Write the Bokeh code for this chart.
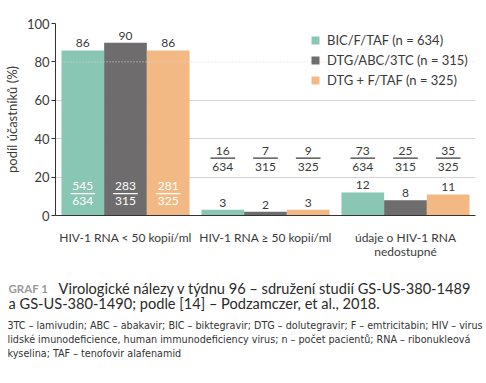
from bokeh.plotting import figure
from bokeh.layouts import column, row
from bokeh.models import (ColumnDataSource, FixedTicker, Legend, LegendItem, Label, Span, Range1d)
from bokeh.core.properties import value
from bokeh.embed import file_html
from bokeh.resources import INLINE

categories = ["HIV-1 RNA < 50 kopií/ml", "HIV-1 RNA ≥ 50 kopií/ml", "údaje o HIV-1 RNA\nnedostupné"]
series = ["BIC/F/TAF (n = 634)", "DTG/ABC/3TC (n = 315)", "DTG + F/TAF (n = 325)"]
colors = ["#8AC6B4", "#6E6C6D", "#F2B985"]
bic = [86, 3, 12]
dtg_abc = [90, 2, 8]
dtg_ftaf = [86, 3, 11]
num_bic = [545, 16, 73]
num_dtg_abc = [283, 7, 25]
num_dtg_ftaf = [281, 9, 35]
den = [634, 315, 325]

FONT = "Lato"
TXT = "#3a3a3a"

WID = 486
H1 = 261
p = figure(width=WID, height=H1, output_backend="svg", toolbar_location=None,
           x_range=Range1d(0, 3), y_range=Range1d(0, 100),
           min_border_left=52, min_border_right=WID - 475, min_border_top=23, min_border_bottom=H1 - 215)
p.outline_line_color = None
p.background_fill_color = None
p.border_fill_color = None

W = 0.305
offsets = [-W, 0.0, W]
vals = [bic, dtg_abc, dtg_ftaf]
nums = [num_bic, num_dtg_abc, num_dtg_ftaf]

renderers = []
for k in range(3):
    xs = [i + 0.5 + offsets[k] for i in range(3)]
    src = ColumnDataSource(dict(x=xs, top=vals[k], lab=[str(v) for v in vals[k]]))
    r = p.vbar(x="x", top="top", width=W, bottom=0, source=src, fill_color=colors[k], line_color=None)
    renderers.append(r)
    p.text(x="x", y="top", text="lab", source=src, text_align="center", text_baseline="bottom",
           y_offset=-3, text_font=value(FONT), text_font_size="12px", text_color=TXT)
    for i in range(3):
        if i == 0:
            yn, yl, yd, col = 15.6, 11.4, 7.3, "white"
        else:
            yn, yl, yd, col = 33.8, 29.9, 25.5, TXT
        xc = xs[i]
        p.text(x=[xc], y=[yn], text=[str(nums[k][i])], text_align="center", text_baseline="middle",
               text_font=value(FONT), text_font_size="12px", text_color=col)
        p.text(x=[xc], y=[yd], text=[str(den[k])], text_align="center", text_baseline="middle",
               text_font=value(FONT), text_font_size="12px", text_color=col)
        p.segment(x0=[xc - 0.088], x1=[xc + 0.088], y0=[yl], y1=[yl], line_color=col, line_width=1.2)

p.xgrid.grid_line_color = None
p.ygrid.ticker = FixedTicker(ticks=[20, 40, 60, 100])
p.ygrid.grid_line_color = "#d4d4d4"
p.ygrid.grid_line_width = 1
p.add_layout(Span(location=80, dimension="width", line_color="#d4d4d4", line_dash="1 2", line_width=1), "center")

p.yaxis.ticker = FixedTicker(ticks=[0, 20, 40, 60, 80, 100])
p.yaxis.minor_tick_line_color = None
p.yaxis.major_tick_out = 4
p.yaxis.major_tick_in = 0
p.yaxis.axis_line_color = "#333333"
p.yaxis.major_tick_line_color = "#333333"
p.yaxis.major_label_standoff = 2
p.yaxis.major_label_text_font = FONT
p.yaxis.major_label_text_font_size = "13px"
p.yaxis.major_label_text_color = TXT
p.yaxis.axis_label = "podíl účastníků (%)"
p.yaxis.axis_label_text_font = FONT
p.yaxis.axis_label_text_font_size = "13px"
p.yaxis.axis_label_text_font_style = "normal"
p.yaxis.axis_label_text_color = TXT
p.yaxis.axis_label_standoff = 4

p.xaxis.ticker = FixedTicker(ticks=[0.5, 1.5, 2.5])
p.xaxis.major_label_overrides = {0.5: categories[0], 1.5: categories[1], 2.5: categories[2]}
p.xaxis.minor_tick_line_color = None
p.xaxis.major_tick_line_color = None
p.xaxis.axis_line_color = "#333333"
p.xaxis.major_label_standoff = 8
p.xaxis.major_label_text_font = FONT
p.xaxis.major_label_text_font_size = "12px"
p.xaxis.major_label_text_line_height = 0.95
p.xaxis.major_label_text_color = TXT

legend = Legend(items=[LegendItem(label=series[k], renderers=[renderers[k]]) for k in range(3)],
                location=(255, 125), orientation="vertical", border_line_color=None,
                background_fill_color=None, background_fill_alpha=0, padding=0, margin=0, spacing=0,
                glyph_width=10, glyph_height=10, label_height=20, label_standoff=7,
                label_text_font=FONT, label_text_font_size="13px", label_text_color=TXT)
p.add_layout(legend, "center")

# caption panel
H2 = 383 - H1
c = figure(width=WID, height=H2, output_backend="svg", toolbar_location=None,
           x_range=Range1d(0, WID), y_range=Range1d(H2, 0),
           x_axis_location=None, y_axis_location=None, min_border=0)
c.outline_line_color = None
c.grid.visible = False
c.border_fill_color = None
c.background_fill_color = None

FN = "DejaVu Sans Condensed"
caps = [
    ("GRAF 1", 8, 288, "11.5px", "#9a9a9a", "bold", FONT),
    ("Virologické nálezy v týdnu 96 – sdružení studií GS-US-380-1489", 58, 288, "14.6px", "#2a2a2a", "normal", FONT),
    ("a GS-US-380-1490; podle [14] – Podzamczer, et al., 2018.", 8, 303, "14.6px", "#2a2a2a", "normal", FONT),
    ("3TC – lamivudin; ABC – abakavir; BIC – biktegravir; DTG – dolutegravir; F – emtricitabin; HIV – virus", 7, 325, "10.7px", "#333333", "normal", FN),
    ("lidské imunodeficience, human immunodeficiency virus; n – počet pacientů; RNA – ribonukleová", 7, 339, "10.7px", "#333333", "normal", FN),
    ("kyselina; TAF – tenofovir alafenamid", 7, 353, "10.7px", "#333333", "normal", FN),
]
for t, X, Y, fs, col, st, fnt in caps:
    c.add_layout(Label(x=X, y=Y - H1, text=t, text_font=fnt, text_font_size=fs,
                       text_color=col, text_baseline="middle", text_align="left", text_font_style=st))

open("out.html", "w").write(file_html(column(p, row(c), spacing=0), INLINE))
